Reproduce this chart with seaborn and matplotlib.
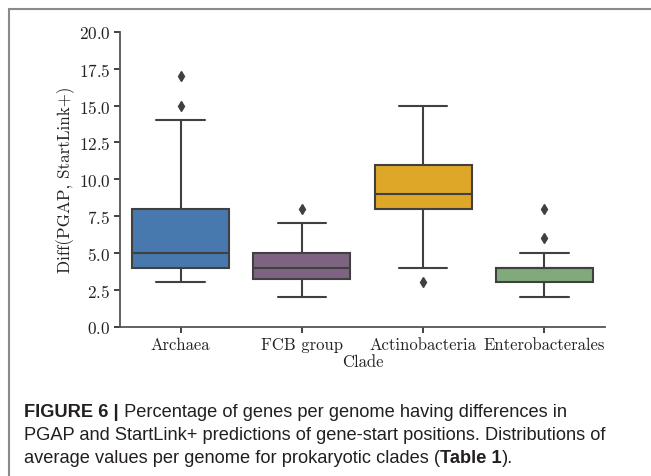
import numpy as np
import pandas as pd
import matplotlib
matplotlib.use("Agg")
import matplotlib.pyplot as plt
from matplotlib.lines import Line2D
import seaborn as sns

# ---- data (per-genome average % of genes with differing starts) ----
clades = ["Archaea", "FCB group", "Actinobacteria", "Enterobacterales"]
archaea = [3, 4, 4, 4, 5, 5, 5, 6, 7, 8, 14, 15, 17]
fcb_group = [2, 3, 3, 3, 4, 4, 4, 4, 5, 5, 5, 6, 7, 8]
actinobacteria = [3, 4, 7, 8, 8, 9, 9, 10, 10, 11, 12, 13, 15]
enterobacterales = [2, 3, 3, 3, 3, 3, 4, 4, 4, 4, 5, 6, 8]
xkcd_names = ["windows blue", "dusty purple", "amber", "faded green"]

caption_lines = [
    [("FIGURE 6 |", "bold"), (" Percentage of genes per genome having differences in", "normal")],
    [("PGAP and StartLink+ predictions of gene-start positions. Distributions of", "normal")],
    [("average values per genome for prokaryotic clades (", "normal"), ("Table 1", "bold"), (").", "normal")],
]

rows = []
for name, vals in zip(clades, [archaea, fcb_group, actinobacteria, enterobacterales]):
    for v in vals:
        rows.append({"Clade": name, "value": v})
df = pd.DataFrame(rows)

sns.set_theme(style="ticks")
plt.rcParams["font.family"] = "serif"
plt.rcParams["font.serif"] = ["cmr10", "DejaVu Serif"]
plt.rcParams["axes.formatter.use_mathtext"] = True
plt.rcParams["axes.unicode_minus"] = False

W, H = 651, 477
fig = plt.figure(figsize=(W / 100, H / 100), dpi=100)
ax = fig.add_axes([120 / W, 1 - 327.5 / H, 485 / W, 294.5 / H])

palette = dict(zip(clades, sns.xkcd_palette(xkcd_names)))
sns.boxplot(data=df, x="Clade", y="value", hue="Clade", palette=palette,
            order=clades, saturation=0.75, width=0.8, linewidth=1.5,
            linecolor="#404040", fliersize=5,
            flierprops=dict(marker="d", markerfacecolor="#404040",
                            markeredgecolor="#404040"),
            legend=False, ax=ax)

ax.set_ylim(0, 20)
ax.set_xlim(-0.5, 3.5)
ax.set_yticks(np.arange(0, 20.01, 2.5))
ax.set_ylabel("Diff(PGAP, StartLink+)", fontsize=12.3, color="#222222", labelpad=2.5)
ax.set_xlabel("Clade", fontsize=12, color="#222222", labelpad=1)
ax.tick_params(axis="x", labelsize=12, colors="#222222", length=4, width=1.2)
ax.tick_params(axis="y", labelsize=12.3, colors="#222222", length=4, width=1.2, pad=3)
for s in ["left", "bottom"]:
    ax.spines[s].set_color("#555555")
    ax.spines[s].set_linewidth(1.3)
sns.despine(ax=ax)

# frame lines of the figure panel
fig.add_artist(Line2D([9 / W, 1], [1 - 10 / H, 1 - 10 / H], color="#8a8a8a", lw=1.5))
fig.add_artist(Line2D([9 / W, 9 / W], [0, 1 - 10 / H], color="#8a8a8a", lw=1.5))

# caption
baselines = [417, 440, 463]
cap_font = "Liberation Sans"
cap_size = 13.15
for line, yb in zip(caption_lines, baselines):
    prev = None
    for txt, wt in line:
        if prev is None:
            prev = fig.text(24 / W, 1 - yb / H, txt, fontsize=cap_size, fontweight=wt,
                            family=cap_font, color="#231f20", va="baseline", ha="left")
        else:
            prev = ax.annotate(txt, xy=(1, 0), xycoords=prev, va="bottom", ha="left",
                               fontsize=cap_size, fontweight=wt, family=cap_font,
                               color="#231f20", annotation_clip=False)

fig.savefig("out.png", dpi=100)
